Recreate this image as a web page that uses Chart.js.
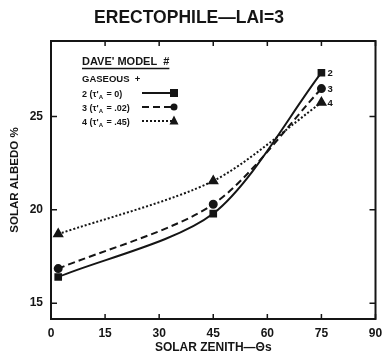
<!DOCTYPE html>
<html>
<head>
<meta charset="utf-8">
<script src="https://cdn.jsdelivr.net/npm/chart.js@4"></script>
<style>
html, body { margin: 0; padding: 0; background: #fff; }
</style>
</head>
<body>
<canvas id="albedo" width="382" height="357"></canvas>
<script>
// waarden
const zenith = [2, 45, 75];                 // zonnezenithoek (graden)
const model2 = [16.4, 19.8, 27.35];         // tau'A = 0
const model3 = [16.85, 20.3, 26.5];         // tau'A = .02
const model4 = [18.7, 21.55, 25.75];        // tau'A = .45
const xTicks = [0, 15, 30, 45, 60, 75, 90];
const yTicks = [15, 20, 25];
const endLabels = ['2', '3', '4'];
const legendRows = [
  { num: '2', val: '0)' },
  { num: '3', val: '.02)' },
  { num: '4', val: '.45)' }
];

const ink = '#151515';
const fontFam = '"Liberation Sans", Arial, sans-serif';

function toPoints(values) {
  return zenith.map((x, i) => ({ x: x, y: values[i] }));
}

// kader, ticks naar binnen, legenda en eindlabels
const decorPlugin = {
  id: 'decor',
  afterDraw(chart) {
    const ctx = chart.ctx;
    const { left, right, top, bottom } = chart.chartArea;
    const xs = chart.scales.x, ys = chart.scales.y;
    ctx.save();
    ctx.strokeStyle = ink;
    ctx.lineWidth = 2;
    ctx.strokeRect(left, top, right - left, bottom - top);

    ctx.lineWidth = 1.5;
    ctx.beginPath();
    xTicks.forEach(v => {
      const px = xs.getPixelForValue(v);
      ctx.moveTo(px, bottom); ctx.lineTo(px, bottom - 5);
      ctx.moveTo(px, top); ctx.lineTo(px, top + 5);
    });
    yTicks.forEach(v => {
      const py = ys.getPixelForValue(v);
      ctx.moveTo(left, py); ctx.lineTo(left + 6, py);
      ctx.moveTo(right, py); ctx.lineTo(right - 6, py);
    });
    ctx.stroke();

    // legenda
    const lx = 82;
    ctx.fillStyle = ink;
    ctx.textBaseline = 'alphabetic';
    ctx.textAlign = 'left';
    ctx.font = 'bold 11px ' + fontFam;
    ctx.fillText("DAVE' MODEL  #", lx, 65);
    const w = ctx.measureText("DAVE' MODEL  #").width;
    ctx.lineWidth = 1.3;
    ctx.beginPath(); ctx.moveTo(lx, 68.5); ctx.lineTo(lx + w, 68.5); ctx.stroke();
    ctx.font = 'bold 9.5px ' + fontFam;
    ctx.fillText('GASEOUS  +', lx, 82);

    const rowY = [96.5, 110.5, 124.5];
    chart.data.datasets.forEach((ds, i) => {
      const y = rowY[i];
      ctx.font = 'bold 9px ' + fontFam;
      let x = lx;
      const pre = legendRows[i].num + " (\u03c4'";
      ctx.fillText(pre, x, y); x += ctx.measureText(pre).width;
      ctx.font = 'bold 6px ' + fontFam;
      ctx.fillText('A', x, y + 2); x += ctx.measureText('A').width + 1;
      ctx.font = 'bold 9px ' + fontFam;
      ctx.fillText(' = ' + legendRows[i].val, x, y);

      const my = y - 3.5;
      ctx.strokeStyle = ink;
      ctx.lineWidth = ds.borderWidth;
      ctx.setLineDash(ds.borderDash || []);
      ctx.beginPath(); ctx.moveTo(142, my); ctx.lineTo(172, my); ctx.stroke();
      ctx.setLineDash([]);
      ctx.fillStyle = ink;
      drawMarker(ctx, ds.pointStyle, 174, my, ds.pointRadius);
    });

    // labels aan het eind van de lijnen
    ctx.font = 'bold 9.5px ' + fontFam;
    ctx.textBaseline = 'middle';
    chart.data.datasets.forEach((ds, i) => {
      const p = ds.data[ds.data.length - 1];
      ctx.fillText(endLabels[i], xs.getPixelForValue(p.x) + 6, ys.getPixelForValue(p.y) + 1);
    });
    ctx.restore();
  }
};

function drawMarker(ctx, style, x, y, r) {
  ctx.beginPath();
  if (style === 'rect') {
    ctx.rect(x - r, y - r, 2 * r, 2 * r);
  } else if (style === 'circle') {
    ctx.arc(x, y, r, 0, Math.PI * 2);
  } else {
    ctx.moveTo(x, y - r * 1.2);
    ctx.lineTo(x + r, y + r * 0.8);
    ctx.lineTo(x - r, y + r * 0.8);
    ctx.closePath();
  }
  ctx.fill();
}

const common = {
  borderColor: ink,
  backgroundColor: ink,
  pointBackgroundColor: ink,
  pointBorderColor: ink,
  borderWidth: 2,
  fill: false,
  tension: 0.28
};

new Chart(document.getElementById('albedo'), {
  type: 'line',
  data: {
    datasets: [
      Object.assign({}, common, { label: '2', data: toPoints(model2), pointStyle: 'rect', pointRadius: 4 }),
      Object.assign({}, common, { label: '3', data: toPoints(model3), pointStyle: 'circle', pointRadius: 3.5, borderDash: [7, 4] }),
      Object.assign({}, common, { label: '4', data: toPoints(model4), pointStyle: 'triangle', pointRadius: 4.5, borderDash: [2, 2] })
    ]
  },
  options: {
    responsive: false,
    animation: false,
    layout: { padding: { left: 0, right: 4, top: 0, bottom: 0 } },
    plugins: {
      legend: { display: false },
      tooltip: { enabled: false },
      title: {
        display: true,
        text: 'ERECTOPHILE\u2014LAI=3',
        color: ink,
        font: { family: fontFam, size: 17.5, weight: 'bold' },
        padding: { top: 8, bottom: 12 }
      }
    },
    scales: {
      x: {
        type: 'linear',
        min: 0, max: 90,
        afterBuildTicks: s => { s.ticks = xTicks.map(v => ({ value: v })); },
        afterFit: s => { s.height = 38; s.paddingLeft = 0; s.paddingRight = 0; },
        grid: { display: false, drawTicks: false },
        border: { display: false },
        ticks: { color: ink, padding: 7, font: { family: fontFam, size: 12, weight: 'bold' } },
        title: {
          display: true, text: 'SOLAR ZENITH\u2014\u0398s', color: ink,
          font: { family: fontFam, size: 12, weight: 'bold' }, padding: { top: 0, bottom: 2 }
        }
      },
      y: {
        min: 14.15, max: 29.05,
        afterBuildTicks: s => { s.ticks = yTicks.map(v => ({ value: v })); },
        afterFit: s => { s.width = 51; s.paddingTop = 0; s.paddingBottom = 0; },
        grid: { display: false, drawTicks: false },
        border: { display: false },
        ticks: { color: ink, padding: 8, font: { family: fontFam, size: 12, weight: 'bold' } },
        title: {
          display: true, text: 'SOLAR ALBEDO %', color: ink,
          font: { family: fontFam, size: 11.5, weight: 'bold' }, padding: { top: 8, bottom: 0 }
        }
      }
    }
  },
  plugins: [decorPlugin]
});
</script>
</body>
</html>
